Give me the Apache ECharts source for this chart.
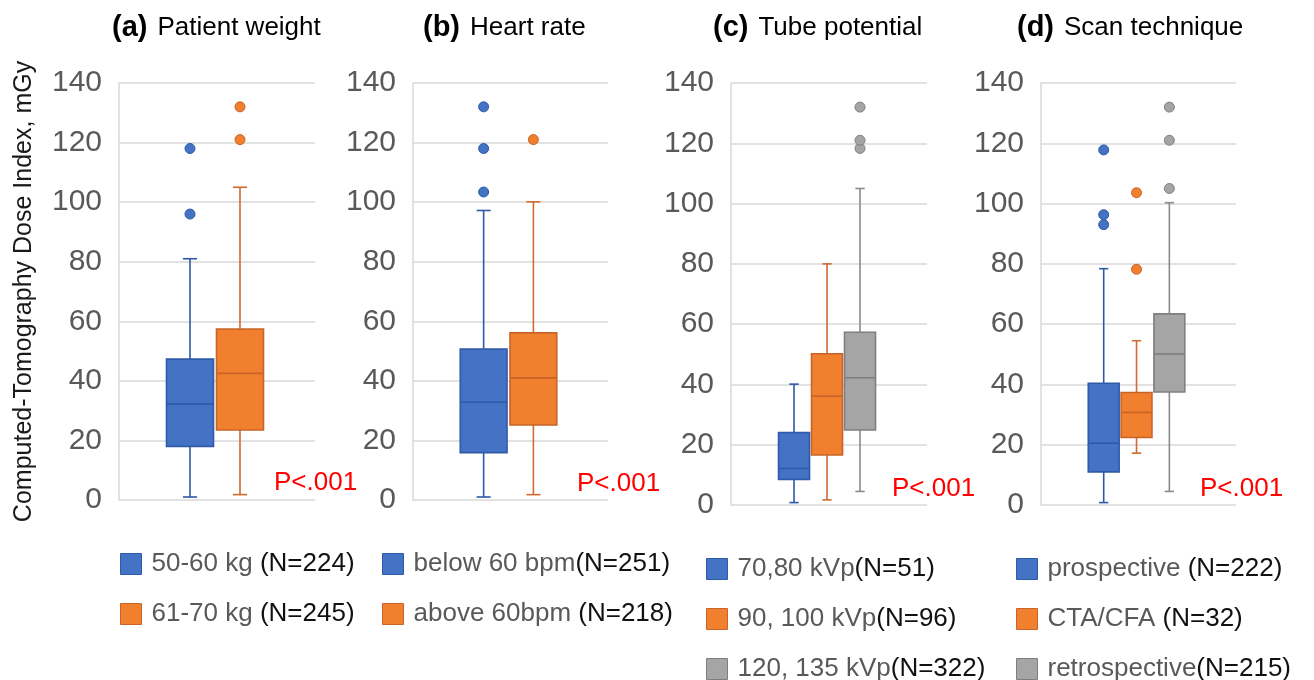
<!DOCTYPE html>
<html><head><meta charset="utf-8">
<script src="https://cdn.jsdelivr.net/npm/echarts@6/dist/echarts.min.js"></script>
<style>html,body{margin:0;padding:0;background:#fff}#c{width:1314px;height:680px}</style>
</head><body><div id="c"></div>
<script>
// ---------------- data ----------------
const yTicks = [0, 20, 40, 60, 80, 100, 120, 140];
const yAxisName = 'Computed-Tomography Dose Index, mGy';
const panelLetters = ['(a)', '(b)', '(c)', '(d)'];
const panelNames = ['Patient weight', 'Heart rate', 'Tube potential', 'Scan technique'];
const pValues = ['P<.001', 'P<.001', 'P<.001', 'P<.001'];

// box values: [min, Q1, median, Q3, max]
const groupsA = ['50-60 kg (N=224)', '61-70 kg (N=245)'];
const boxesA = [[1, 18, 32.2, 47.3, 81], [1.8, 23.5, 42.5, 57.4, 105]];
const outliersA = [[96, 118], [121, 132]];

const groupsB = ['below 60 bpm(N=251)', 'above 60bpm (N=218)'];
const boxesB = [[1, 15.9, 32.8, 50.7, 97.2], [1.8, 25.2, 41, 56.1, 100.1]];
const outliersB = [[103.4, 118, 132], [121]];

const groupsC = ['70,80 kVp(N=51)', '90, 100 kVp(N=96)', '120, 135 kVp(N=322)'];
const boxesC = [[0.8, 8.5, 12.1, 24, 40.1], [1.7, 16.6, 36.1, 50.2, 80], [4.5, 24.9, 42.2, 57.3, 105]];
const outliersC = [[], [], [118.3, 121, 132]];

const groupsD = ['prospective (N=222)', 'CTA/CFA (N=32)', 'retrospective(N=215)'];
const boxesD = [[0.8, 11, 20.5, 40.4, 78.4], [17.2, 22.4, 30.7, 37.3, 54.5], [4.5, 37.5, 50.1, 63.4, 100.3]];
const outliersD = [[93, 96.3, 117.8], [78.2, 103.6], [105, 121, 132]];

// ---------------- styles / layout ----------------
const FILL = ['#4472C4', '#F07F2E', '#A5A5A5'];
const EDGE = ['#2F5AA8', '#C8642A', '#7F7F7F'];
const WHISK = ['#2F58A6', '#CF6A30', '#8A8A8A'];
const FONT = 'Liberation Sans, Arial, sans-serif';

const panels = [
  { groups: groupsA, boxes: boxesA, outliers: outliersA, grid: { left: 119, top: 83, width: 196, height: 417 }, xr: [-1.42, 2.5], title: [112, 12], p: [274, 470], legend: [120, 551] },
  { groups: groupsB, boxes: boxesB, outliers: outliersB, grid: { left: 413, top: 83, width: 195, height: 417 }, xr: [-1.42, 2.5], title: [423, 12], p: [577, 471], legend: [382, 551] },
  { groups: groupsC, boxes: boxesC, outliers: outliersC, grid: { left: 731, top: 83, width: 196, height: 422 }, xr: [-1.91, 4.03], title: [713, 12], p: [892, 476], legend: [706, 556] },
  { groups: groupsD, boxes: boxesD, outliers: outliersD, grid: { left: 1041, top: 83, width: 195, height: 422 }, xr: [-1.91, 4.03], title: [1017, 12], p: [1200, 476], legend: [1016, 556] }
];
const BOX_RATIO = 0.94, CAP_RATIO = 0.3;

function renderBox(params, api) {
  const g = api.value(0);
  const pts = [1, 2, 3, 4, 5].map(i => api.coord([g, api.value(i)]));
  const cx = pts[0][0];
  const bw = api.size([1, 0])[0] * BOX_RATIO;
  const cap = bw * CAP_RATIO;
  const ls = { stroke: WHISK[g], lineWidth: 1.6 };
  return {
    type: 'group', children: [
      { type: 'line', shape: { x1: cx, y1: pts[0][1], x2: cx, y2: pts[1][1] }, style: ls },
      { type: 'line', shape: { x1: cx, y1: pts[3][1], x2: cx, y2: pts[4][1] }, style: ls },
      { type: 'line', shape: { x1: cx - cap / 2, y1: pts[0][1], x2: cx + cap / 2, y2: pts[0][1] }, style: ls },
      { type: 'line', shape: { x1: cx - cap / 2, y1: pts[4][1], x2: cx + cap / 2, y2: pts[4][1] }, style: ls },
      { type: 'rect', shape: { x: cx - bw / 2, y: pts[3][1], width: bw, height: pts[1][1] - pts[3][1] }, style: { fill: api.visual('color'), stroke: EDGE[g], lineWidth: 1.6 } },
      { type: 'line', shape: { x1: cx - bw / 2, y1: pts[2][1], x2: cx + bw / 2, y2: pts[2][1] }, style: { stroke: EDGE[g], lineWidth: 1.6 } }
    ]
  };
}

const grids = [], xAxes = [], yAxes = [], series = [], titles = [], legends = [];
panels.forEach((pn, p) => {
  grids.push(Object.assign({ containLabel: false }, pn.grid));
  xAxes.push({ type: 'value', gridIndex: p, min: pn.xr[0], max: pn.xr[1], show: false });
  yAxes.push({
    type: 'value', gridIndex: p,
    min: yTicks[0], max: yTicks[yTicks.length - 1], interval: yTicks[1] - yTicks[0],
    axisLine: { show: true, onZero: false, lineStyle: { color: '#D9D9D9', width: 1.5 } },
    axisTick: { show: false },
    splitLine: { show: true, lineStyle: { color: '#D9D9D9', width: 1.5 } },
    axisLabel: { fontSize: 30, color: '#595959', margin: 17, fontFamily: FONT },
    name: p === 0 ? yAxisName : '',
    nameLocation: 'middle', nameRotate: 90, nameGap: 82,
    nameTextStyle: { fontSize: 25, color: '#1A1A1A', fontFamily: FONT }
  });
  pn.groups.forEach((name, g) => {
    series.push({
      type: 'custom', name: name, xAxisIndex: p, yAxisIndex: p,
      renderItem: renderBox,
      encode: { x: 0, y: [1, 2, 3, 4, 5] },
      itemStyle: { color: FILL[g] },
      data: [[g].concat(pn.boxes[g])],
      z: 2
    });
    series.push({
      type: 'scatter', name: name, xAxisIndex: p, yAxisIndex: p,
      symbol: 'circle', symbolSize: 10,
      itemStyle: { color: FILL[g], borderColor: EDGE[g], borderWidth: 1, opacity: 1 },
      data: pn.outliers[g].map(v => [g, v]),
      z: 3
    });
  });
  titles.push({
    text: '{b|' + panelLetters[p] + '}{n|' + panelNames[p] + '}',
    left: pn.title[0], top: pn.title[1], padding: 0,
    textStyle: { fontFamily: FONT, fontWeight: 'normal', rich: {
      b: { fontSize: 29, fontWeight: 'bold', color: '#000', fontFamily: FONT, lineHeight: 32 },
      n: { fontSize: 26, fontWeight: 'normal', color: '#000', fontFamily: FONT, lineHeight: 32, padding: [0, 0, 0, 10] } } }
  });
  titles.push({
    text: pValues[p], left: pn.p[0], top: pn.p[1], padding: 0,
    textStyle: { fontSize: 26, color: '#FF0000', fontWeight: 'normal', fontFamily: FONT }
  });
  legends.push({
    orient: 'vertical', left: pn.legend[0], top: pn.legend[1], height: 130, padding: 0,
    itemWidth: 21, itemHeight: 21, itemGap: 24, icon: 'rect', selectedMode: false,
    data: pn.groups.map((n, g) => ({ name: n, itemStyle: { color: FILL[g], borderColor: EDGE[g], borderWidth: 1 } })),
    formatter: function (n) {
      const i = n.indexOf('(N=');
      return '{g|' + n.slice(0, i) + '}{k|' + n.slice(i) + '}';
    },
    textStyle: { fontFamily: FONT, rich: {
      g: { fontSize: 26, color: '#595959', lineHeight: 24, padding: [0, 0, 0, 5], fontFamily: FONT },
      k: { fontSize: 26, color: '#111', lineHeight: 24, fontFamily: FONT } } }
  });
});

const chart = echarts.init(document.getElementById('c'), null, { renderer: 'canvas' });
chart.setOption({
  animation: false,
  backgroundColor: '#fff',
  textStyle: { fontFamily: FONT },
  title: titles,
  legend: legends,
  grid: grids,
  xAxis: xAxes,
  yAxis: yAxes,
  series: series
});
</script></body></html>
